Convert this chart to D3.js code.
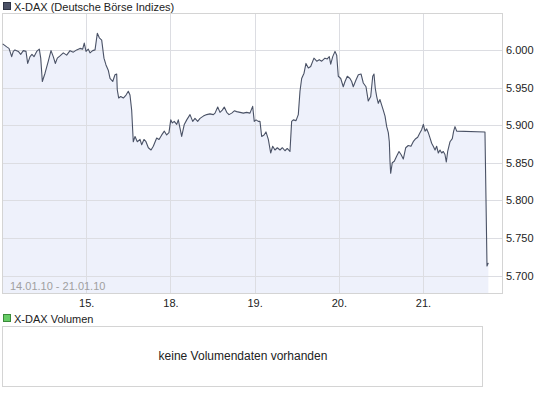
<!DOCTYPE html>
<html>
<head>
<meta charset="utf-8">
<script src="https://cdn.jsdelivr.net/npm/d3@7"></script>
<style>
  body { margin: 0; background: #fff; }
  svg { display: block; font-family: "Liberation Sans", Arial, sans-serif; }
</style>
</head>
<body>
<svg id="chart" width="545" height="395"></svg>
<script>
// trading-day positions (0 = 14.01., 1 = 15.01., 2 = 18.01., ...)
const sessionPos = [
  0.008, 0.056, 0.083, 0.115, 0.134, 0.154, 0.194, 0.222, 0.253, 0.285, 0.305, 0.333, 0.356, 0.380, 0.412, 0.443,
  0.460, 0.479, 0.511, 0.550, 0.582, 0.609, 0.633, 0.657, 0.689, 0.728, 0.768, 0.808, 0.847, 0.887, 0.926, 0.958,
  0.977, 0.998, 1.025, 1.045, 1.077, 1.105, 1.132, 1.156, 1.184, 1.211, 1.235, 1.262, 1.283, 1.315, 1.342, 1.362,
  1.369, 1.386, 1.410, 1.441, 1.473, 1.500, 1.520, 1.540, 1.559, 1.580, 1.607, 1.639, 1.659, 1.686, 1.710, 1.738,
  1.770, 1.797, 1.837, 1.865, 1.897, 1.928, 1.956, 1.983, 2.004, 2.023, 2.046, 2.075, 2.094, 2.114, 2.134, 2.165,
  2.194, 2.233, 2.265, 2.292, 2.324, 2.352, 2.391, 2.431, 2.470, 2.510, 2.530, 2.562, 2.589, 2.616, 2.640, 2.669,
  2.696, 2.728, 2.759, 2.787, 2.827, 2.866, 2.906, 2.945, 2.977, 2.996, 3.017, 3.044, 3.064, 3.084, 3.112, 3.135,
  3.163, 3.191, 3.215, 3.242, 3.270, 3.302, 3.329, 3.361, 3.388, 3.420, 3.440, 3.460, 3.492, 3.519, 3.539, 3.559,
  3.587, 3.610, 3.638, 3.666, 3.705, 3.738, 3.768, 3.797, 3.836, 3.863, 3.887, 3.904, 3.928, 3.955, 3.975, 3.994,
  4.023, 4.053, 4.074, 4.101, 4.133, 4.153, 4.172, 4.204, 4.232, 4.264, 4.291, 4.323, 4.350, 4.379, 4.403, 4.418,
  4.433, 4.450, 4.469, 4.489, 4.528, 4.549, 4.569, 4.588, 4.600, 4.608, 4.616, 4.635, 4.659, 4.688, 4.715, 4.739,
  4.766, 4.795, 4.825, 4.857, 4.884, 4.913, 4.937, 4.964, 4.984, 5.004, 5.024, 5.044, 5.063, 5.083, 5.103, 5.122,
  5.143, 5.162, 5.182, 5.202, 5.222, 5.241, 5.261, 5.277, 5.293, 5.321, 5.348, 5.364, 5.380, 5.400, 5.736, 5.748,
  5.760, 5.776
]
const prices = [
  6008, 6004, 6002, 5991, 5998, 6000, 5998, 5994, 5999, 5998, 5982, 5991, 5994, 5991, 5998, 6001,
  5989, 5958, 5969, 5985, 5999, 5991, 5982, 5989, 5992, 5996, 5993, 5999, 5997, 6000, 6002, 6001,
  6009, 5998, 6001, 5996, 5999, 6000, 6022, 6016, 6013, 5989, 5980, 5973, 5962, 5958, 5967, 5968,
  5947, 5936, 5938, 5936, 5940, 5945, 5940, 5920, 5878, 5885, 5878, 5881, 5874, 5881, 5878, 5870,
  5867, 5872, 5883, 5881, 5887, 5892, 5887, 5890, 5907, 5903, 5905, 5901, 5907, 5896, 5885, 5901,
  5907, 5914, 5905, 5909, 5905, 5909, 5912, 5914, 5915, 5914, 5916, 5924, 5917, 5920, 5924, 5917,
  5914, 5916, 5919, 5918, 5917, 5916, 5917, 5916, 5925, 5905, 5907, 5905, 5905, 5885, 5887, 5891,
  5881, 5863, 5872, 5867, 5870, 5867, 5870, 5866, 5869, 5865, 5905, 5907, 5906, 5914, 5945, 5962,
  5969, 5982, 5976, 5978, 5989, 5985, 5987, 5985, 5989, 5988, 5991, 5981, 5991, 5998, 5993, 5965,
  5962, 5951, 5958, 5965, 5962, 5958, 5951, 5960, 5967, 5968, 5956, 5951, 5932, 5938, 5965, 5968,
  5949, 5938, 5929, 5934, 5920, 5912, 5898, 5890, 5878, 5852, 5836, 5850, 5852, 5859, 5865, 5861,
  5855, 5870, 5873, 5872, 5878, 5882, 5884, 5890, 5894, 5901, 5892, 5895, 5890, 5883, 5876, 5872,
  5867, 5872, 5863, 5867, 5863, 5865, 5861, 5851, 5865, 5878, 5882, 5892, 5898, 5892, 5891, 5803,
  5713, 5717
]
const dayTicks = [1, 2, 3, 4, 5]
const dayLabels = ["15.", "18.", "19.", "20.", "21."]
const priceTicks = [5700, 5750, 5800, 5850, 5900, 5950, 6000]

const series = sessionPos.map((t, i) => ({ t, v: prices[i] }))

const plot = { left: 2, right: 502, top: 13, bottom: 293 }
const deFormat = d3.formatLocale({ decimal: ",", thousands: ".", grouping: [3], currency: ["", "€"] }).format(",.0f")

const x = d3.scaleLinear().domain([0, 500 / 84.2]).range([plot.left, plot.right])
const y = d3.scaleLinear().domain([5677, 6049]).range([plot.bottom, plot.top])

const svg = d3.select("#chart")

// legend header
svg.append("rect").attr("x", 3.5).attr("y", 2.5).attr("width", 7).attr("height", 7)
    .attr("fill", "#4b5166").attr("stroke", "#2e3345")
svg.append("text").attr("x", 14).attr("y", 10.5).attr("font-size", 11).attr("fill", "#222")
    .text("X-DAX (Deutsche Börse Indizes)")

// price area
svg.append("path")
    .datum(series)
    .attr("fill", "#eef1fb")
    .attr("d", d3.area().x(d => x(d.t)).y0(plot.bottom).y1(d => y(d.v)))

// grid
const grid = svg.append("g").attr("stroke", "#dcdde2").attr("stroke-width", 1)
grid.selectAll(".h").data(priceTicks).join("line")
    .attr("x1", plot.left).attr("x2", plot.right)
    .attr("y1", d => Math.round(y(d)) + 0.5).attr("y2", d => Math.round(y(d)) + 0.5)
grid.selectAll(".v").data(dayTicks).join("line")
    .attr("y1", plot.top).attr("y2", plot.bottom)
    .attr("x1", d => Math.round(x(d)) + 0.5).attr("x2", d => Math.round(x(d)) + 0.5)

// frame
svg.append("rect")
    .attr("x", plot.left + 0.5).attr("y", plot.top + 0.5)
    .attr("width", plot.right - plot.left).attr("height", plot.bottom - plot.top)
    .attr("fill", "none").attr("stroke", "#d4d4d4")

// price line
svg.append("path")
    .datum(series)
    .attr("fill", "none")
    .attr("stroke", "#4a5266")
    .attr("stroke-width", 1.1)
    .attr("stroke-linejoin", "round")
    .attr("d", d3.line().x(d => x(d.t)).y(d => y(d.v)))

// y axis (right)
const yAxis = svg.append("g")
    .attr("transform", `translate(${plot.right + 3},0)`)
    .call(d3.axisRight(y).tickValues(priceTicks).tickSize(0).tickPadding(1).tickFormat(deFormat))
yAxis.select(".domain").remove()
yAxis.selectAll("text").attr("font-size", 11).attr("fill", "#222").attr("font-family", null)

// x axis
const xAxis = svg.append("g")
    .attr("transform", `translate(0,${plot.bottom})`)
    .call(d3.axisBottom(x).tickValues(dayTicks).tickSize(0).tickPadding(6).tickFormat((d, i) => dayLabels[i]))
xAxis.select(".domain").remove()
xAxis.selectAll("text").attr("font-size", 11).attr("fill", "#222").attr("font-family", null)

// period label
svg.append("text").attr("x", 10).attr("y", 290).attr("font-size", 11).attr("fill", "#a0a0a0")
    .text("14.01.10 - 21.01.10")

// volume panel
svg.append("rect").attr("x", 3.5).attr("y", 314.5).attr("width", 7).attr("height", 7)
    .attr("fill", "#66cc66").attr("stroke", "#3a8a3a")
svg.append("text").attr("x", 14).attr("y", 322.5).attr("font-size", 11).attr("fill", "#222")
    .text("X-DAX Volumen")
svg.append("rect").attr("x", 2.5).attr("y", 326.5).attr("width", 480).attr("height", 60)
    .attr("fill", "#fff").attr("stroke", "#d4d4d4")
svg.append("text").attr("x", 243).attr("y", 360).attr("text-anchor", "middle")
    .attr("font-size", 12).attr("fill", "#222")
    .text("keine Volumendaten vorhanden")
</script>
</body>
</html>
